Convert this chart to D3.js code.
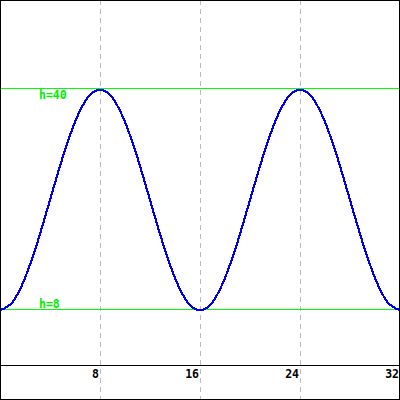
<!DOCTYPE html>
<html>
<head>
<meta charset="utf-8">
<script src="https://cdn.jsdelivr.net/npm/d3@7"></script>
<style>
html,body{margin:0;padding:0;background:#fff;}
svg{display:block;}
text{font-family:"DejaVu Sans Mono",monospace;font-weight:bold;}
</style>
</head>
<body>
<script>
// Data
const xs = [0,1,2,3,4,5,6,7,8,9,10,11,12,13,14,15,16,17,18,19,20,21,22,23,24,25,26,27,28,29,30,31,32];
const hs = [8,9.2,12.7,17.9,24,30.1,35.3,38.8,40,38.8,35.3,30.1,24,17.9,12.7,9.2,8,9.2,12.7,17.9,24,30.1,35.3,38.8,40,38.8,35.3,30.1,24,17.9,12.7,9.2,8];
const xTicks = [8,16,24,32];
const refLevels = [40, 8];
const refLabels = ["h=40", "h=8"];

const W = 400, H = 400;
const svg = d3.select("body").append("svg").attr("width", W).attr("height", H);
svg.append("rect").attr("width", W).attr("height", H).attr("fill", "#fff");

const x = d3.scaleLinear().domain([0, 32]).range([0, 400]);
const y = d3.scaleLinear().domain([-5, 53]).range([400, 0]);

// vertical dashed grid
svg.append("g").selectAll("line").data(xTicks).join("line")
  .attr("x1", d => Math.round(x(d)) + 0.5).attr("x2", d => Math.round(x(d)) + 0.5)
  .attr("y1", 0).attr("y2", H)
  .attr("stroke", "#bbbbbb").attr("stroke-width", 1).attr("stroke-dasharray", "5,4")
  .attr("shape-rendering", "crispEdges");

// x axis line at h=0
const axisY = Math.round(y(0)) - 0.5;
svg.append("line").attr("x1", 0).attr("x2", W).attr("y1", axisY).attr("y2", axisY)
  .attr("stroke", "#000").attr("stroke-width", 1.5).attr("shape-rendering", "crispEdges");

// tick labels
svg.append("g").selectAll("text").data(xTicks).join("text")
  .attr("x", d => x(d) - 1).attr("y", axisY + 12.5)
  .attr("text-anchor", "end").attr("font-size", 11.5).attr("fill", "#000")
  .text(d => d);

// reference lines
svg.append("g").selectAll("line").data(refLevels).join("line")
  .attr("x1", 0).attr("x2", W)
  .attr("y1", d => Math.floor(y(d)) - 0.5).attr("y2", d => Math.floor(y(d)) - 0.5)
  .attr("stroke", "#00ff00").attr("stroke-width", 1.2)
  .attr("shape-rendering", "crispEdges");

svg.append("g").selectAll("text").data(refLevels).join("text")
  .attr("x", 39)
  .attr("y", (d, i) => i === 0 ? y(d) + 9 : y(d) - 2.5)
  .attr("font-size", 11.5).attr("fill", "#00ee00")
  .text((d, i) => refLabels[i]);

// wave
const line = d3.line().x(d => x(d[0])).y(d => y(d[1])).curve(d3.curveNatural);
svg.append("path").datum(xs.map((v, i) => [v, hs[i]]))
  .attr("d", line).attr("fill", "none")
  .attr("stroke", "#0000ee").attr("stroke-width", 2.2)
  .attr("shape-rendering", "crispEdges");

// border
svg.append("rect").attr("x", 0.5).attr("y", 0.5).attr("width", W - 1).attr("height", H - 1)
  .attr("fill", "none").attr("stroke", "#000").attr("stroke-width", 1.5)
  .attr("shape-rendering", "crispEdges");
</script>
</body>
</html>
